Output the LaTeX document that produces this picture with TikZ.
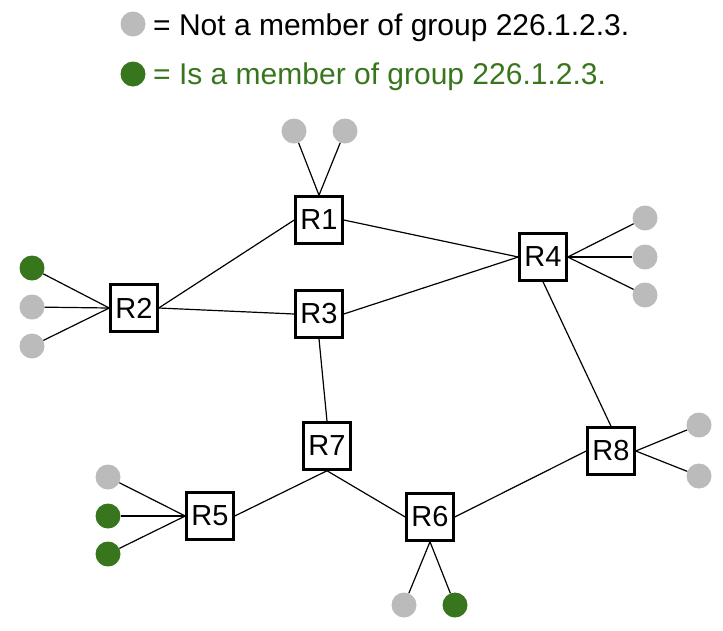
\documentclass[tikz,border=0pt]{standalone}
\usepackage{fontspec}
\setmainfont{Liberation Sans}
\definecolor{hostgray}{RGB}{187,187,187}
\definecolor{membergreen}{RGB}{56,118,29}
\begin{document}
\begin{tikzpicture}[x=1pt,y=-1pt,
  router/.style={draw,line width=2.5pt,fill=white,minimum size=47pt,inner sep=0pt,font=\fontsize{29}{34}\selectfont},
  host/.style={circle,fill=hostgray,minimum size=25pt,inner sep=0pt},
  member/.style={host,fill=membergreen},
  link/.style={line width=1.2pt},
  keytext/.style={anchor=base west,inner sep=0pt,font=\fontsize{30}{36}\selectfont}]
\useasboundingbox (0,0) rectangle (723,630);
\node[host] (keygray) at (133,24){};\node[keytext] (keygraytext) at (153,35){= Not a member of group 226.1.2.3.};
\node[member] (keygreen) at (133,74){};\node[keytext,text=membergreen] (keygreentext) at (153,84){= Is a member of group 226.1.2.3.};
\node[router] (r1) at (319,220){R1};\node[router] (r2) at (134,308){R2};
\node[router] (r3) at (319,314){R3};\node[router] (r4) at (543,257){R4};
\node[router] (r5) at (210,516){R5};\node[router] (r6) at (430,517){R6};
\node[router] (r7) at (327,446){R7};\node[router] (r8) at (611,451){R8};
\node[host] (h1a) at (294,131){};\node[host] (h1b) at (345,131){};
\node[member] (h2a) at (32,268){};\node[host] (h2b) at (32,307){};\node[host] (h2c) at (32,346){};
\node[host] (h4a) at (645,218){};\node[host] (h4b) at (645,257){};\node[host] (h4c) at (645,295){};
\node[host] (h8a) at (699,425){};\node[host] (h8b) at (699,476){};
\node[host] (h5a) at (108,477){};\node[member] (h5b) at (108,516){};\node[member] (h5c) at (108,554){};
\node[host] (h6a) at (404,605){};\node[member] (h6b) at (455,605){};
\draw[link] (r2.east)--(r1.west);\draw[link] (r2.east)--(r3.west);
\draw[link] (r1.east)--(r4.west);\draw[link] (r3.east)--(r4.west);
\draw[link] (r4.south)--(r8.north);\draw[link] (r3.south)--(r7.north);
\draw[link] (r7.south)--(r5.east);\draw[link] (r7.south)--(r6.west);\draw[link] (r6.east)--(r8.west);
\draw[link] (h1a)--(r1.north);\draw[link] (h1b)--(r1.north);
\draw[link] (h2a)--(r2.west);\draw[link] (h2b)--(r2.west);\draw[link] (h2c)--(r2.west);
\draw[link] (h4a)--(r4.east);\draw[link] (h4b)--(r4.east);\draw[link] (h4c)--(r4.east);
\draw[link] (h8a)--(r8.east);\draw[link] (h8b)--(r8.east);
\draw[link] (h5a)--(r5.west);\draw[link] (h5b)--(r5.west);\draw[link] (h5c)--(r5.west);
\draw[link] (h6a)--(r6.south);\draw[link] (h6b)--(r6.south);
\end{tikzpicture}
\end{document}
